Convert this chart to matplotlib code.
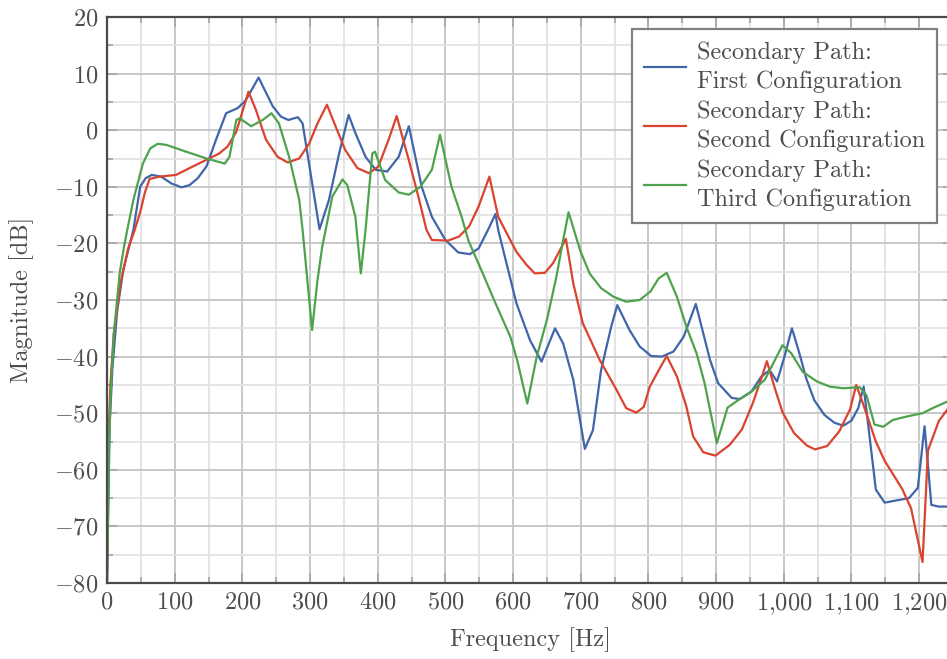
import matplotlib
matplotlib.use("Agg")
import matplotlib.pyplot as plt
from matplotlib.ticker import MultipleLocator, FuncFormatter

plt.rcParams["font.family"] = "serif"
plt.rcParams["font.serif"] = ["cmr10"]
plt.rcParams["mathtext.fontset"] = "cm"
plt.rcParams["axes.unicode_minus"] = False
plt.rcParams["axes.formatter.use_mathtext"] = True

# data
blue_f = [0, 4, 8, 15, 24, 39, 49, 57, 66, 80, 95, 110, 122, 134, 147, 161, 176, 193, 205, 224,
          245, 257, 268, 282, 289, 314, 328, 343, 357, 367, 382, 397, 414, 431, 446, 465, 480, 500,
          519, 536, 549, 563, 574, 578, 605, 625, 642, 662, 674, 689, 706, 718, 730, 745, 754, 772,
          787, 804, 820, 837, 852, 870, 891, 903, 923, 935, 952, 967, 979, 990, 1001, 1012, 1023,
          1033, 1045, 1060, 1075, 1088, 1100, 1110, 1118, 1136, 1149, 1185, 1198, 1208, 1218, 1229, 1250]
blue_db = [-80, -52, -42, -32, -24.7, -17.6, -10, -8.5, -7.9, -8.2, -9.4, -10.1, -9.7, -8.5, -6.4, -1.7,
           3.0, 3.9, 5.3, 9.3, 4.2, 2.4, 1.8, 2.3, 1.2, -17.5, -12.3, -4.1, 2.7, -0.5, -4.7, -7.0, -7.3,
           -4.7, 0.7, -10, -15.3, -19.4, -21.6, -21.9, -20.9, -17.6, -14.8, -17.6, -30.6, -37.1, -40.9,
           -35.0, -37.7, -44.1, -56.3, -53, -42.4, -34.7, -30.9, -35.3, -38.2, -39.9, -40.0, -39.1,
           -36.5, -30.7, -40.6, -44.7, -47.3, -47.5, -46.2, -43.5, -42.4, -44.4, -40, -35.0, -39.4,
           -43.8, -47.7, -50.3, -51.7, -52.2, -51.3, -49.1, -45.3, -63.5, -65.8, -65.0, -63.2, -52.3,
           -66.2, -66.5, -66.5]

red_f = [0, 2, 5, 10, 20, 31, 41, 49, 56, 63, 78, 102, 127, 151, 166, 178, 191, 209, 220, 235, 252,
         267, 284, 299, 311, 325, 338, 352, 370, 387, 401, 416, 428, 446, 460, 472, 480, 504, 520, 535,
         549, 565, 578, 588, 605, 620, 632, 647, 659, 678, 689, 703, 728, 753, 767, 782, 793, 802, 818,
         827, 842, 856, 866, 881, 899, 920, 938, 954, 967, 975, 986, 998, 1015, 1034, 1046, 1064, 1082,
         1098, 1107, 1117, 1136, 1149, 1175, 1188, 1205, 1213, 1229, 1250]
red_db = [-80, -55, -45, -36, -27, -21, -17.6, -14.5, -11, -8.6, -8.2, -7.9, -6.4, -5.0, -4.1, -2.9,
          -0.3, 6.8, 3.6, -1.7, -4.7, -5.7, -5.0, -2.3, 1.2, 4.5, 0.6, -3.5, -6.7, -7.6, -6.4, -1.7,
          2.5, -5.3, -11.7, -17.6, -19.4, -19.5, -18.8, -17.0, -13.5, -8.2, -15.3, -17.6, -21.5, -23.8,
          -25.3, -25.2, -23.5, -19.2, -27.1, -34.1, -40.6, -45.9, -49.1, -49.9, -48.9, -45.3, -41.8,
          -39.9, -43.5, -48.8, -54.1, -56.9, -57.5, -55.6, -52.9, -48.3, -43.8, -40.8, -45.3, -49.8,
          -53.5, -55.7, -56.4, -55.8, -53.2, -49.3, -45.0, -48.3, -55, -58.4, -63.4, -66.8, -76.3,
          -56.6, -51.4, -48]

green_f = [0, 3, 6, 10, 19, 26, 31, 39, 53, 64, 75, 88, 117, 147, 174, 181, 191, 196, 213, 230, 243,
           254, 269, 284, 289, 303, 311, 318, 333, 348, 355, 367, 375, 382, 392, 396, 411, 431, 446,
           463, 480, 492, 509, 524, 534, 553, 573, 596, 606, 621, 635, 650, 664, 674, 682, 699, 713,
           730, 748, 767, 787, 803, 815, 827, 842, 856, 871, 883, 901, 917, 935, 952, 972, 998, 1011,
           1028, 1049, 1068, 1088, 1112, 1122, 1134, 1147, 1161, 1181, 1205, 1220, 1250]
green_db = [-80, -55, -45, -36, -25, -20, -17, -12.3, -5.9, -3.2, -2.4, -2.6, -3.8, -5.0, -5.9, -4.7,
            1.8, 2.1, 0.7, 1.8, 3.0, 1.2, -4.7, -12.3, -17.6, -35.3, -26.5, -20.6, -11.7, -8.7, -9.7,
            -15.3, -25.3, -17.6, -4.1, -3.8, -8.8, -11.0, -11.4, -10.0, -7.0, -0.8, -10.0, -15.3,
            -19.5, -24.7, -30.3, -36.5, -40.6, -48.3, -40.0, -33.5, -25.9, -19.4, -14.5, -21.2, -25.3,
            -27.9, -29.4, -30.3, -30.0, -28.5, -26.2, -25.2, -29.4, -34.7, -39.4, -44.7, -55.3, -49.0,
            -47.5, -46.2, -44.1, -38.0, -39.4, -42.7, -44.4, -45.3, -45.6, -45.4, -46.8, -52.0, -52.4,
            -51.2, -50.6, -50.0, -49.1, -47.5]

labels = ["Secondary Path:\nFirst Configuration",
          "Secondary Path:\nSecond Configuration",
          "Secondary Path:\nThird Configuration"]
colors = ["#4065aa", "#d9432f", "#4fa24c"]

txt = "#4d4d4d"
fig = plt.figure(figsize=(9.47, 6.59), dpi=100)
ax = fig.add_axes([107 / 947, 1 - 583 / 659, 846 / 947, 566 / 659])

ax.plot(blue_f, blue_db, color=colors[0], lw=1.6, label=labels[0])
ax.plot(red_f, red_db, color=colors[1], lw=1.6, label=labels[1])
ax.plot(green_f, green_db, color=colors[2], lw=1.6, label=labels[2])

ax.set_xlim(0, 1250)
ax.set_ylim(-80, 20)
ax.xaxis.set_major_locator(MultipleLocator(100))
ax.xaxis.set_minor_locator(MultipleLocator(50))
ax.yaxis.set_major_locator(MultipleLocator(10))
ax.yaxis.set_minor_locator(MultipleLocator(5))
ax.xaxis.set_major_formatter(FuncFormatter(lambda v, p: "$" + f"{v:,.0f}".replace(",", "{,}") + "$"))
ax.yaxis.set_major_formatter(FuncFormatter(lambda v, p: f"${v:.0f}$"))

ax.grid(which="major", color="#c4c4c4", lw=1.3)
ax.grid(which="minor", color="#e3e3e3", lw=1.3)
ax.set_axisbelow(True)
ax.tick_params(which="both", direction="in", top=True, right=True, color="#a8a8a8",
               labelsize=17.5, labelcolor=txt, pad=6)
ax.tick_params(which="major", length=7, width=1.3)
ax.tick_params(which="minor", length=4, width=1.3)
for s in ax.spines.values():
    s.set_color("#4a4a4a")
    s.set_linewidth(1.6)

ax.set_xlabel("Frequency [Hz]", fontsize=17.5, color=txt)
ax.set_ylabel("Magnitude [dB]", fontsize=17.5, color=txt)
ax.xaxis.set_label_coords(0.5, -(640 - 583) / 566)
ax.xaxis.label.set_va("center")
ax.yaxis.set_label_coords(-(107 - 22) / 846, 0.5)
ax.yaxis.label.set_va("center")

leg = ax.legend(loc="upper right", bbox_to_anchor=((937 - 107) / 846, 1 - 12 / 566),
                borderaxespad=0, fontsize=17.5, fancybox=False, framealpha=1,
                edgecolor="#808080", handlelength=1.75, handletextpad=0.42,
                labelspacing=0.3, borderpad=0.5)
leg.get_frame().set_linewidth(1.6)
for t in leg.get_texts():
    t.set_color(txt)
    t.set_linespacing(1.38)

fig.savefig("out.png", dpi=100)
